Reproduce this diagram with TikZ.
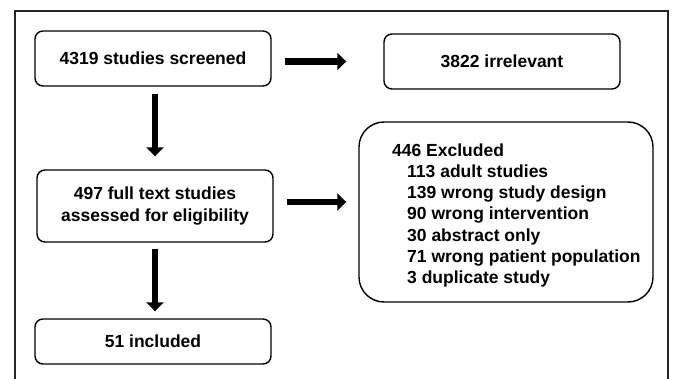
\documentclass[tikz,border=0pt]{standalone}
\usepackage{fontspec}
\setmainfont{Liberation Sans}
\usetikzlibrary{arrows.meta}
\begin{document}
\begin{tikzpicture}[x=1pt,y=1pt,
  every node/.style={font=\bfseries\fontsize{17.5}{21.2}\selectfont},
  flowbox/.style={draw=black,line width=1.4pt,rounded corners=8pt,minimum width=236pt,inner sep=0pt,align=center},
  bigarrow/.style={line width=6.5pt,-{Triangle[length=9pt,width=17pt]}},
  frameline/.style={line width=1.8pt,draw=black!85}]
\useasboundingbox (0,0) rectangle (674,-379);
\draw[frameline] (15,-380) -- (15,-11) -- (668,-11) -- (668,-380);
\node[flowbox,minimum height=55pt] (b1) at (153,-58.5) {4319 studies screened};
\node[flowbox,minimum height=55pt] (irr) at (502,-61.5) {3822 irrelevant};
\node[flowbox,minimum height=72pt] (b2) at (155,-206) {497 full text studies\\assessed for eligibility};
\node[flowbox,minimum height=45pt] (b3) at (153,-341.5) {51 included};
\node[draw=black,line width=1.4pt,rounded corners=25pt,minimum width=294pt,minimum height=180pt,inner sep=0pt] (excl) at (506,-212) {};
\node[anchor=north west,align=left,inner sep=0pt] (exclText) at (392,-143.5) {446 Excluded\\
\hspace*{15pt}113 adult studies\\
\hspace*{15pt}139 wrong study design\\
\hspace*{15pt}90 wrong intervention\\
\hspace*{15pt}30 abstract only\\
\hspace*{15pt}71 wrong patient population\\
\hspace*{15pt}3 duplicate study};
\draw[bigarrow,shorten <=13pt,shorten >=37pt] (b1.east |- irr.west) -- (irr.west);
\draw[bigarrow,shorten <=13pt,shorten >=12pt] ([yshift=4pt]b2.east) -- ([yshift=4pt]b2.east -| excl.west);
\draw[bigarrow,shorten <=7pt,shorten >=13pt] (b1.south -| 155,0) -- (b2.north -| 155,0);
\draw[bigarrow,shorten <=6pt,shorten >=7pt] (b2.south) -- (b3.north -| b2.south);
\end{tikzpicture}
\end{document}
